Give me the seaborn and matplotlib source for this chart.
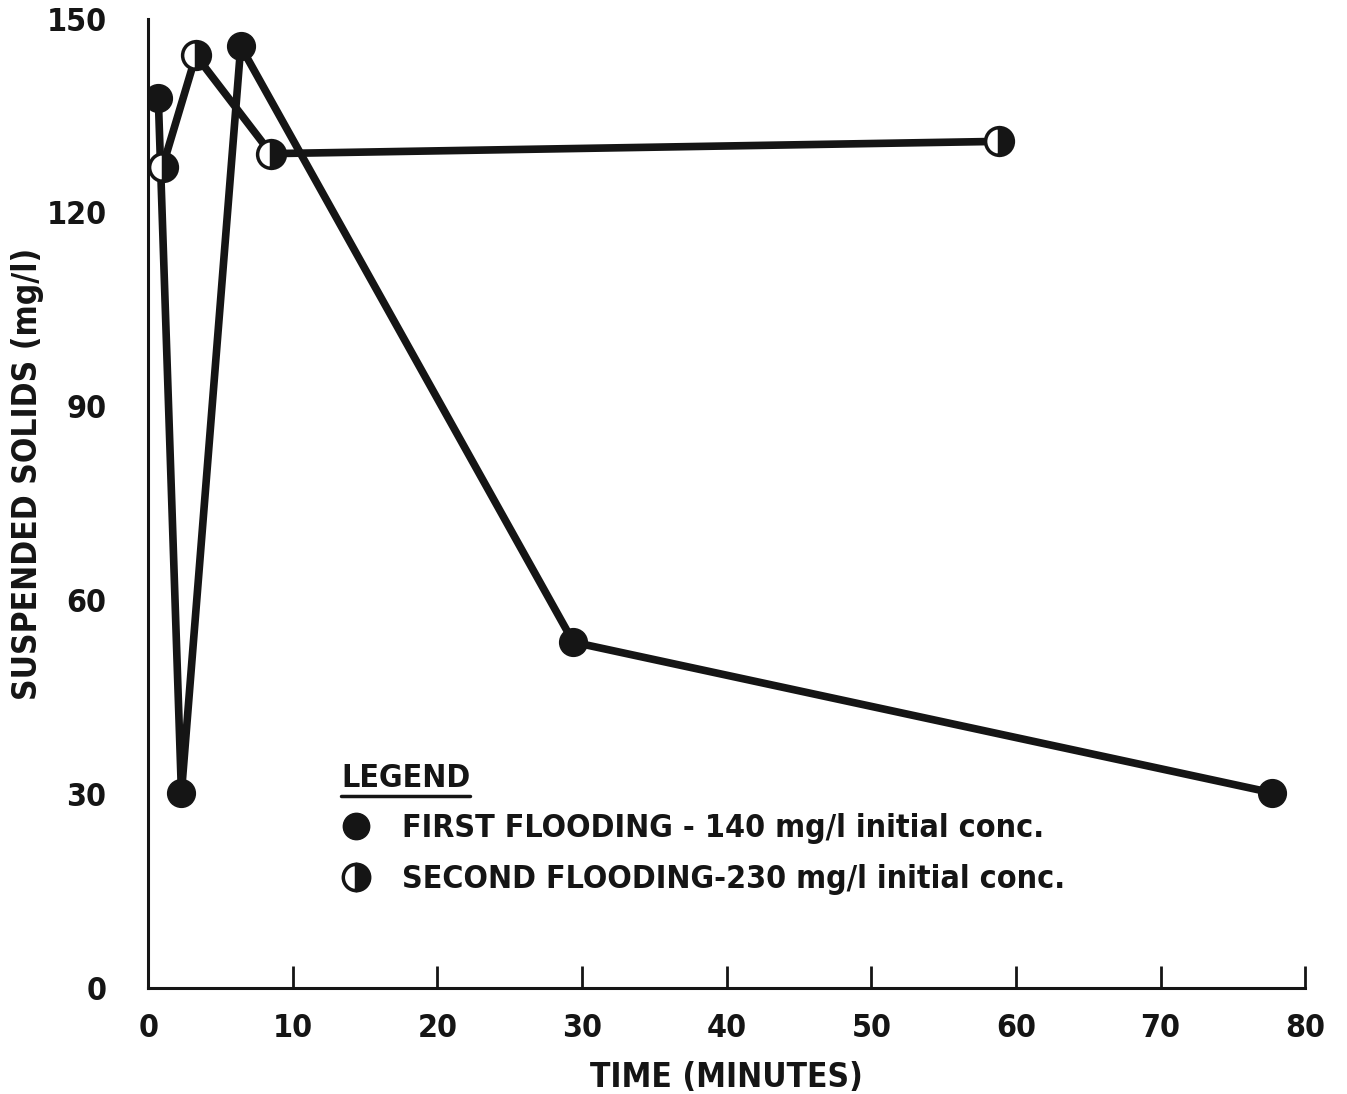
import matplotlib
matplotlib.use("Agg")
import matplotlib.pyplot as plt
from matplotlib.lines import Line2D
from matplotlib.ticker import FixedLocator
import seaborn as sns
import pandas as pd

# ---- data ----
first_time = [0.7, 2.3, 6.4, 29.4, 77.7]
first_solids = [137.7, 30.2, 145.7, 53.5, 30.2]
second_time = [1.0, 3.3, 8.5, 58.8]
second_solids = [127.1, 144.3, 129.1, 131.0]

x_ticks = [0, 10, 20, 30, 40, 50, 60, 70, 80]
y_ticks = [0, 30, 60, 90, 120, 150]
label_first = "FIRST FLOODING - 140 mg/l initial conc."
label_second = "SECOND FLOODING-230 mg/l initial conc."

sns.set_theme(style="white")
plt.rcParams["font.family"] = ["DejaVu Sans"]
plt.rcParams["font.stretch"] = "condensed"

INK = "#151515"
FS = 23

fig = plt.figure(figsize=(13.47, 10.94), dpi=100)
ax = fig.add_axes([0.110, 0.097, 0.859, 0.886])

df1 = pd.DataFrame({"t": first_time, "s": first_solids})
df2 = pd.DataFrame({"t": second_time, "s": second_solids})

sns.lineplot(data=df1, x="t", y="s", ax=ax, color=INK, linewidth=5.5,
             marker="o", markersize=20, markerfacecolor=INK,
             markeredgecolor=INK, markeredgewidth=1, sort=False, zorder=3)
sns.lineplot(data=df2, x="t", y="s", ax=ax, color=INK, linewidth=5.5,
             marker="o", markersize=20, fillstyle="right",
             markerfacecolor=INK, markerfacecoloralt="white",
             markeredgecolor=INK, markeredgewidth=2.5, sort=False, zorder=4)

ax.set_xlim(0, 80)
ax.set_ylim(0, 150)
for side in ["top", "right"]:
    ax.spines[side].set_visible(False)
for side in ["left", "bottom"]:
    ax.spines[side].set_color(INK)
    ax.spines[side].set_linewidth(2.2)
ax.set_xticks(x_ticks)
ax.set_yticks(y_ticks)
ax.tick_params(axis="x", bottom=True, direction="in", length=16, width=2,
               color=INK, pad=18, labelsize=FS, labelcolor=INK)
ax.tick_params(axis="y", left=True, direction="in", length=0, pad=30,
               labelsize=FS, labelcolor=INK)
ax.yaxis.set_minor_locator(FixedLocator([60, 150]))
ax.tick_params(axis="y", which="minor", left=True, direction="in", length=15,
               width=2, color=INK)
for lab in ax.get_xticklabels() + ax.get_yticklabels():
    lab.set_fontweight("bold")

ax.set_xlabel("TIME (MINUTES)", fontsize=FS + 1, fontweight="bold",
              color=INK, labelpad=12)
ax.set_ylabel("SUSPENDED SOLIDS (mg/l)", fontsize=FS + 1, fontweight="bold",
              color=INK)
ax.yaxis.set_label_coords(-0.09, 0.53)

handles = [
    Line2D([], [], linestyle="none", marker="o", markersize=19,
           markerfacecolor=INK, markeredgecolor=INK),
    Line2D([], [], linestyle="none", marker="o", markersize=19, fillstyle="right",
           markerfacecolor=INK, markerfacecoloralt="white",
           markeredgecolor=INK, markeredgewidth=2.5),
]
leg = ax.legend(handles, [label_first, label_second], title="LEGEND",
                loc="upper left", bbox_to_anchor=(0.142, 0.262), frameon=False,
                alignment="left", handlelength=0.9, handletextpad=1.0,
                labelspacing=0.62, prop={"size": FS, "weight": "bold"},
                title_fontproperties={"size": FS, "weight": "bold"})
for t in leg.get_texts():
    t.set_color(INK)
leg.get_title().set_color(INK)

fig.canvas.draw()
bb = leg.get_title().get_window_extent()
inv = fig.transFigure.inverted()
(x0, y0), (x1, y1) = inv.transform([(bb.x0, bb.y0), (bb.x1, bb.y0)])
fig.add_artist(Line2D([x0, x1], [y0 - 0.002, y0 - 0.002], color=INK,
                      linewidth=2.5, transform=fig.transFigure))

fig.savefig("out.png", dpi=100, facecolor="white")
